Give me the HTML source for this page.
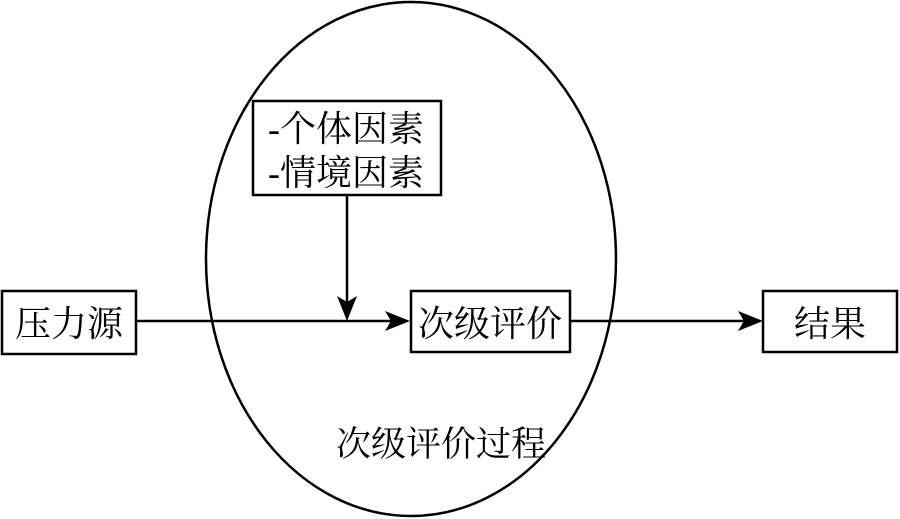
<!DOCTYPE html>
<html><head><meta charset="utf-8"><style>
html,body{margin:0;padding:0;background:#fff;}
svg{display:block}
text{font-family:"Liberation Serif","Noto Serif CJK SC",serif;fill:#000;}
</style></head><body>
<svg width="900" height="519" viewBox="0 0 900 519">
<ellipse cx="411" cy="259" rx="205" ry="257" fill="none" stroke="#000" stroke-width="2.5"/>
<rect x="2" y="291" width="134" height="63" fill="#fff" stroke="#000" stroke-width="2.5"/>
<text x="69" y="336" font-size="36" text-anchor="middle">压力源</text>
<rect x="253" y="101" width="188" height="94" fill="#fff" stroke="#000" stroke-width="2.5"/>
<text x="268" y="141" font-size="36">-个体因素</text>
<text x="268" y="185" font-size="36">-情境因素</text>
<rect x="411" y="291" width="159" height="61" fill="#fff" stroke="#000" stroke-width="2.5"/>
<text x="490" y="336" font-size="36" text-anchor="middle">次级评价</text>
<rect x="763" y="291" width="134" height="61" fill="#fff" stroke="#000" stroke-width="2.5"/>
<text x="830" y="336" font-size="36" text-anchor="middle">结果</text>
<line x1="136" y1="321" x2="395" y2="321" stroke="#000" stroke-width="2.5"/>
<polygon points="410,321 385,311 391,321 385,331" fill="#000"/>
<line x1="347" y1="195" x2="347" y2="305" stroke="#000" stroke-width="2.5"/>
<polygon points="347,321 337,296 347,302 357,296" fill="#000"/>
<line x1="570" y1="321" x2="748" y2="321" stroke="#000" stroke-width="2.5"/>
<polygon points="763,321 738,311 744,321 738,331" fill="#000"/>
<text x="441" y="456" font-size="35" text-anchor="middle">次级评价过程</text>
</svg>
</body></html>
